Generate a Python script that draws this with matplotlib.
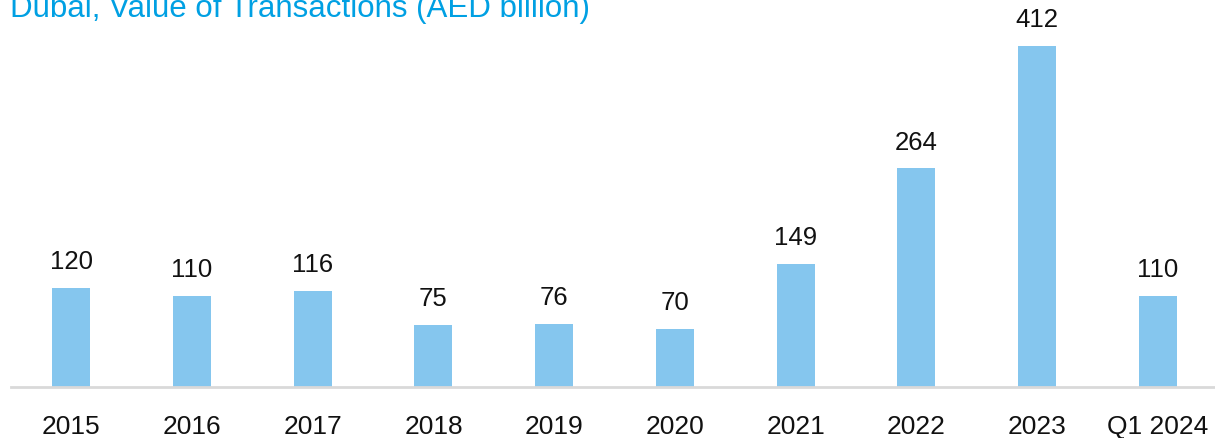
import matplotlib
matplotlib.use('Agg')
from matplotlib import pyplot as plt

plt.rcParams['font.family'] = ['Liberation Sans', 'DejaVu Sans']

# Dubai transactions, AED billion
years = ['2015', '2016', '2017', '2018', '2019', '2020', '2021', '2022', '2023', 'Q1 2024']
values = [120, 110, 116, 75, 76, 70, 149, 264, 412, 110]

fig = plt.figure(figsize=(12.15, 4.38), dpi=100)
ax = fig.add_axes([11/1215, 51/438, 1204/1215, 387/438])

x = range(len(years))
ax.bar(x, values, width=0.315, color='#85C6EE', zorder=2)

for i, v in zip(x, values):
    ax.annotate(str(v), (i, v), xytext=(0, 13.5), textcoords='offset points',
                ha='center', va='baseline', fontsize=18.5, color='#111111')

ax.set_xlim(-0.5, 9.475)
ax.set_ylim(0, 467.5)
ax.set_xticks(list(x))
ax.set_xticklabels(years, fontsize=19, color='#111111')
ax.tick_params(axis='x', length=0, pad=20)
ax.set_yticks([])

for s in ['top', 'right', 'left']:
    ax.spines[s].set_visible(False)
ax.spines['bottom'].set_color('#D9D9D9')
ax.spines['bottom'].set_linewidth(2)

fig.text(10/1215, (438-17)/438, 'Dubai, Value of Transactions (AED billion)',
         fontsize=22.5, color='#00A0E3', ha='left', va='baseline')

plt.savefig('out.png', dpi=100)
